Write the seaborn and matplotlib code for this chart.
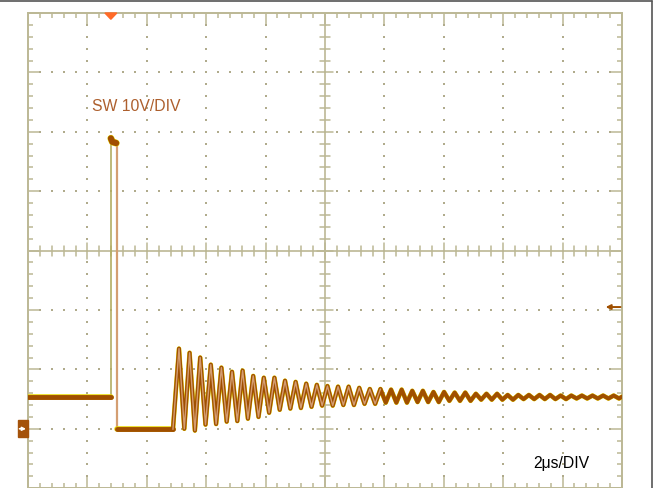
import matplotlib
matplotlib.use("Agg")
import matplotlib.pyplot as plt
import matplotlib.transforms as mtransforms
from matplotlib.lines import Line2D
from matplotlib.patches import Polygon, Rectangle
import numpy as np
import pandas as pd
import seaborn as sns

# ---------------- data (time in us, volts in V) ----
time_per_div_us = 2.0
volts_per_div = 10.0
n_div_x = 10
n_div_y = 8
v_bottom = -10.0

pre_level_v = 5.4
rise_us = 2.78
pulse_top_us = [2.79, 2.84, 2.97]
pulse_top_v = [48.9, 48.3, 48.1]
fall_us = 2.99
low_level_v = -0.1
ring_start_us = 4.88
ring_first_peak_us = 5.084
ring_half_period_us = 0.1785
ring_peaks_v = [13.5, 12.8, 12.0, 10.8, 10.3, 9.6, 9.8, 8.9, 8.6, 8.6,
                8.1, 7.9, 7.6, 7.4, 7.2, 7.1, 7.1, 6.9, 6.7, 6.7,
                6.6, 6.6, 6.4, 6.4, 6.2, 6.2, 6.1, 6.1, 5.9, 5.9,
                5.9, 5.7, 5.7, 5.7, 5.7, 5.7, 5.6, 5.6, 5.6, 5.6,
                5.6, 5.6]
ring_troughs_v = [0.0, -0.3, 0.7, 0.8, 1.2, 1.3, 1.7, 2.0, 2.7, 3.2,
                  3.4, 3.5, 3.7, 3.9, 3.9, 4.0, 4.0, 4.2, 4.2, 4.4,
                  4.4, 4.4, 4.5, 4.5, 4.5, 4.7, 4.7, 4.7, 4.9, 4.9,
                  4.9, 4.9, 5.0, 5.0, 5.0, 5.0, 5.0, 5.1, 5.1, 5.1,
                  5.1, 5.1]
end_level_v = 5.4
trigger_level_v = 20.5
trigger_pos_us = 2.79
ground_v = 0.0

channel_label = "SW 10V/DIV"
timebase_label = "2\u03bcs/DIV"

# ---------------- build the trace ----------------
t_end = n_div_x * time_per_div_us
v_top = v_bottom + n_div_y * volts_per_div

ring_t, ring_v = [], []
for k in range(len(ring_peaks_v)):
    ring_t.append(ring_first_peak_us + 2 * k * ring_half_period_us)
    ring_v.append(ring_peaks_v[k])
    ring_t.append(ring_first_peak_us + (2 * k + 1) * ring_half_period_us)
    ring_v.append(ring_troughs_v[k])

flat = pd.concat([
    pd.DataFrame({"t": [0.0, rise_us], "v": [pre_level_v, pre_level_v], "seg": "pre"}),
    pd.DataFrame({"t": [fall_us, ring_start_us], "v": [low_level_v, low_level_v], "seg": "low"}),
], ignore_index=True)
top_df = pd.DataFrame({"t": pulse_top_us, "v": pulse_top_v})
ring_df = pd.DataFrame({"t": [ring_start_us] + ring_t + [t_end],
                        "v": [low_level_v] + ring_v + [end_level_v]})
rise_df = pd.DataFrame({"t": [rise_us, rise_us], "v": [pre_level_v, pulse_top_v[0]]})
fall_df = pd.DataFrame({"t": [fall_us, fall_us], "v": [pulse_top_v[-1], low_level_v]})

# ---------------- figure ----------------
sns.set_style("white")
W, H = 654, 489
fig = plt.figure(figsize=(W / 100, H / 100), dpi=100)
ax_left, ax_top_px, ax_w_px = 28, 14, 594
ax_h_px = ax_w_px * n_div_y / n_div_x
ax = fig.add_axes([ax_left / W, 1 - (ax_top_px + ax_h_px) / H, ax_w_px / W, ax_h_px / H])
ax.set_xlim(0, t_end)
ax.set_ylim(v_bottom, v_top)
ax.set_facecolor("white")

grid_col = "#bcb895"
dot_col = "#b0ab8c"
for s in ax.spines.values():
    s.set_color(grid_col)
    s.set_linewidth(1.4)

ax.set_xticks(np.arange(0, t_end + 0.01, time_per_div_us))
ax.set_xticks(np.arange(0, t_end + 0.01, time_per_div_us / 5), minor=True)
ax.set_yticks(np.arange(v_bottom, v_top + 0.01, volts_per_div))
ax.set_yticks(np.arange(v_bottom, v_top + 0.01, volts_per_div / 5), minor=True)
ax.tick_params(which="both", direction="in", top=True, bottom=True, left=True, right=True,
               labelbottom=False, labelleft=False, color=grid_col, width=1.1)
ax.tick_params(which="major", length=8)
ax.tick_params(which="minor", length=3.8)

# dotted graticule
cx = t_end / 2
cy = v_bottom + n_div_y / 2 * volts_per_div
minor_x = np.arange(0, t_end + 0.01, time_per_div_us / 5)
minor_y = np.arange(v_bottom, v_top + 0.01, volts_per_div / 5)
for gx in np.arange(time_per_div_us, t_end - 0.01, time_per_div_us):
    if abs(gx - cx) < 1e-6:
        continue
    ax.scatter(np.full(len(minor_y) - 2, gx), minor_y[1:-1], s=2.0, marker="s",
               color=dot_col, linewidths=0, zorder=1)
for gy in np.arange(v_bottom + volts_per_div, v_top - 0.01, volts_per_div):
    if abs(gy - cy) < 1e-6:
        continue
    ax.scatter(minor_x[1:-1], np.full(len(minor_x) - 2, gy), s=2.0, marker="s",
               color=dot_col, linewidths=0, zorder=1)

# centre cross with ticks
ax.axvline(cx, color=grid_col, lw=1.2, zorder=1)
ax.axhline(cy, color=grid_col, lw=1.2, zorder=1)
px_v = volts_per_div / 59.4
px_t = time_per_div_us / 59.4
for i, x in enumerate(minor_x[1:-1]):
    h = 8 if (i + 1) % 5 == 0 else 5
    ax.plot([x, x], [cy - h * px_v, cy + h * px_v], color=grid_col, lw=1.1, zorder=1)
for i, y in enumerate(minor_y[1:-1]):
    h = 8 if (i + 1) % 5 == 0 else 5
    ax.plot([cx - h * px_t, cx + h * px_t], [y, y], color=grid_col, lw=1.1, zorder=1)

# ---------------- trace ----------------
brown = "#a04f00"
yellow = "#e8d800"
tan = "#d49e72"
# fast edges are dim on the scope
sns.lineplot(data=rise_df, x="t", y="v", estimator=None, sort=False,
             color="#b3ad62", lw=1.2, ax=ax, zorder=3)
sns.lineplot(data=fall_df, x="t", y="v", estimator=None, sort=False,
             color=tan, lw=1.6, ax=ax, zorder=3)
# flat parts: thick brown band with yellow fringe
sns.lineplot(data=flat, x="t", y="v", units="seg", estimator=None, sort=False,
             color=yellow, lw=4.0, ax=ax, zorder=3)
sns.lineplot(data=flat, x="t", y="v", units="seg", estimator=None, sort=False,
             color=brown, lw=3.5, ax=ax, zorder=4)
sns.lineplot(data=top_df, x="t", y="v", estimator=None, sort=False,
             color=yellow, lw=5.0, ax=ax, zorder=4)
sns.lineplot(data=top_df, x="t", y="v", estimator=None, sort=False,
             color=brown, lw=4.4, ax=ax, zorder=5)
# ringing: brown stroke with lighter centre
sns.lineplot(data=ring_df, x="t", y="v", estimator=None, sort=False,
             color=yellow, lw=3.3, ax=ax, zorder=3)
sns.lineplot(data=ring_df, x="t", y="v", estimator=None, sort=False,
             color=brown, lw=2.9, ax=ax, zorder=4)
sns.lineplot(data=ring_df.iloc[:40], x="t", y="v", estimator=None, sort=False,
             color=tan, lw=1.0, ax=ax, zorder=5)
ax.set_xlabel("")
ax.set_ylabel("")

# ---------------- markers & labels ----------------
trig = Polygon([[trigger_pos_us - 0.2, v_top], [trigger_pos_us + 0.2, v_top],
                [trigger_pos_us, v_top - 1.05]], closed=True, color="#ff6a28",
               clip_on=False, zorder=6)
ax.add_patch(trig)

ax.annotate("", xy=(19.45, trigger_level_v), xytext=(19.95, trigger_level_v),
            xycoords="data", textcoords="data",
            arrowprops=dict(arrowstyle="-|>", color=brown, lw=1.4, mutation_scale=7,
                            shrinkA=0, shrinkB=0), zorder=6)

trans = mtransforms.blended_transform_factory(fig.transFigure, ax.transData)
ax.add_patch(Rectangle((18 / W, ground_v - 1.45), 9.5 / W, 2.9, transform=trans,
                       color="#a4520a", clip_on=False, zorder=6))
ax.annotate("", xy=(26 / W, ground_v), xytext=(19.5 / W, ground_v),
            xycoords=trans, textcoords=trans,
            arrowprops=dict(arrowstyle="-|>", color="white", lw=1.2, mutation_scale=5,
                            shrinkA=0, shrinkB=0), annotation_clip=False, zorder=7)

ax.text(2.155, 54.4, channel_label, color="#ad5f2d", fontsize=11.3,
        fontfamily="Liberation Sans", ha="left", va="center", zorder=6)
ax.text(17.0, -5.6, timebase_label, color="black", fontsize=11.3,
        fontfamily="Liberation Sans", ha="left", va="center", zorder=6)

# outer screenshot frame
fig.add_artist(Line2D([0, 651.5 / W], [1 - 2 / H, 1 - 2 / H], color="#555555", lw=1.2))
fig.add_artist(Line2D([651.5 / W, 651.5 / W], [0, 1 - 2 / H], color="#555555", lw=1.2))

fig.savefig("out.png", dpi=100)
